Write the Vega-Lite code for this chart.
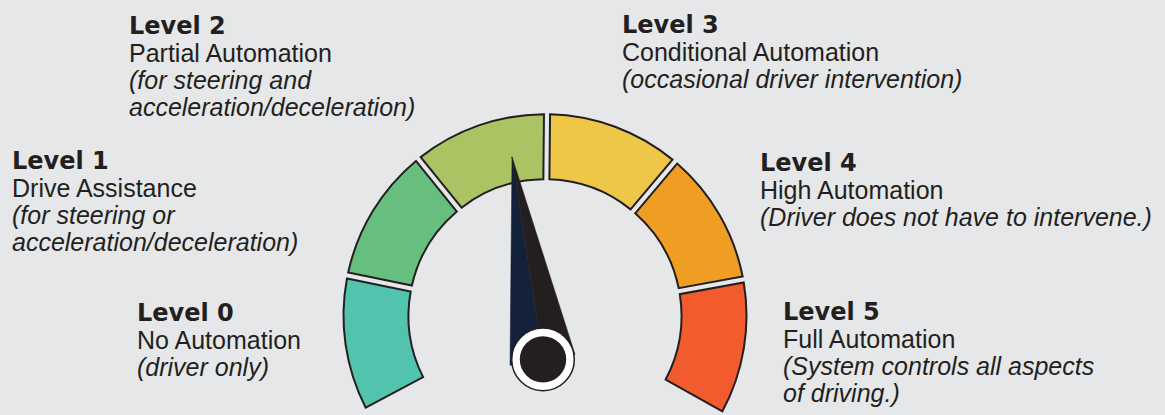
{
  "$schema": "https://vega.github.io/schema/vega-lite/v6.json",
  "width": 1165,
  "height": 415,
  "autosize": {"type": "fit", "contains": "padding"},
  "padding": 0,
  "background": "#e6e7e8",
  "config": {"view": {"stroke": null}},
  "datasets": {
    "levels": [
      {"level": "Level 0", "start": 0, "end": 1, "name": "No Automation", "desc": "(driver only)", "lx": 137, "ly": 323},
      {"level": "Level 1", "start": 1, "end": 2, "name": "Drive Assistance", "desc": "(for steering or\nacceleration/deceleration)", "lx": 12, "ly": 170},
      {"level": "Level 2", "start": 2, "end": 3, "name": "Partial Automation", "desc": "(for steering and\nacceleration/deceleration)", "lx": 129, "ly": 34},
      {"level": "Level 3", "start": 3, "end": 4, "name": "Conditional Automation", "desc": "(occasional driver intervention)", "lx": 622, "ly": 33},
      {"level": "Level 4", "start": 4, "end": 5, "name": "High Automation", "desc": "(Driver does not have to intervene.)", "lx": 760, "ly": 172},
      {"level": "Level 5", "start": 5, "end": 6, "name": "Full Automation", "desc": "(System controls all aspects\nof driving.)", "lx": 783, "ly": 322}
    ],
    "needle": [
      {"part": "navy", "i": 0, "nx": 512, "ny": 158},
      {"part": "navy", "i": 1, "nx": 510, "ny": 368},
      {"part": "navy", "i": 2, "nx": 543, "ny": 362},
      {"part": "black", "i": 0, "nx": 512, "ny": 158},
      {"part": "black", "i": 1, "nx": 543, "ny": 362},
      {"part": "black", "i": 2, "nx": 575, "ny": 357}
    ],
    "hub": [{"hx": 543, "hy": 362}]
  },
  "layer": [
    {
      "data": {"name": "levels"},
      "mark": {"type": "arc", "innerRadius": 136.5, "outerRadius": 201.5, "padAngle": 0.025, "stroke": "#231f20", "strokeWidth": 2},
      "encoding": {
        "x": {"datum": 545, "type": "quantitative", "scale": {"domain": [0, 1165], "nice": false, "zero": false}, "axis": null},
        "y": {"datum": 318, "type": "quantitative", "scale": {"domain": [0, 415], "nice": false, "zero": false, "reverse": true}, "axis": null},
        "theta": {"field": "start", "type": "quantitative", "stack": null, "scale": {"domain": [0, 6], "range": [-2.06, 2.08]}},
        "theta2": {"field": "end"},
        "color": {"field": "level", "type": "nominal", "legend": null, "scale": {"domain": ["Level 0", "Level 1", "Level 2", "Level 3", "Level 4", "Level 5"], "range": ["#52c3ad", "#66bf7f", "#acc364", "#efc748", "#f09d23", "#f15b2e"]}}
      }
    },
    {
      "data": {"name": "needle"},
      "transform": [{"filter": "datum.part === 'navy'"}],
      "mark": {"type": "line", "interpolate": "linear-closed", "fill": "#13213a", "stroke": "#13213a", "strokeWidth": 0.5},
      "encoding": {
        "x": {"field": "nx", "type": "quantitative"},
        "y": {"field": "ny", "type": "quantitative"},
        "order": {"field": "i", "type": "quantitative"}
      }
    },
    {
      "data": {"name": "needle"},
      "transform": [{"filter": "datum.part === 'black'"}],
      "mark": {"type": "line", "interpolate": "linear-closed", "fill": "#231f20", "stroke": "#231f20", "strokeWidth": 0.5},
      "encoding": {
        "x": {"field": "nx", "type": "quantitative"},
        "y": {"field": "ny", "type": "quantitative"},
        "order": {"field": "i", "type": "quantitative"}
      }
    },
    {
      "data": {"name": "hub"},
      "mark": {"type": "circle", "size": 3915, "fill": "#ffffff", "opacity": 1, "stroke": "#231f20", "strokeWidth": 1.5},
      "encoding": {
        "x": {"field": "hx", "type": "quantitative"},
        "y": {"field": "hy", "type": "quantitative"}
      }
    },
    {
      "data": {"name": "hub"},
      "mark": {"type": "circle", "size": 2157, "fill": "#231f20", "opacity": 1},
      "encoding": {
        "x": {"field": "hx", "type": "quantitative"},
        "y": {"field": "hy", "type": "quantitative"}
      }
    },
    {
      "data": {"name": "levels"},
      "mark": {"type": "text", "align": "left", "baseline": "alphabetic", "font": "DejaVu Sans", "fontWeight": "bold", "fontSize": 24, "color": "#231f20"},
      "encoding": {
        "x": {"field": "lx", "type": "quantitative"},
        "y": {"field": "ly", "type": "quantitative"},
        "text": {"field": "level"}
      }
    },
    {
      "data": {"name": "levels"},
      "mark": {"type": "text", "align": "left", "baseline": "alphabetic", "font": "Liberation Sans", "fontSize": 25, "dy": 28.5, "color": "#231f20"},
      "encoding": {
        "x": {"field": "lx", "type": "quantitative"},
        "y": {"field": "ly", "type": "quantitative"},
        "text": {"field": "name"}
      }
    },
    {
      "data": {"name": "levels"},
      "mark": {"type": "text", "align": "left", "baseline": "alphabetic", "font": "Liberation Sans", "fontStyle": "italic", "fontSize": 25, "dy": 55.5, "lineBreak": "\n", "lineHeight": 27, "color": "#231f20"},
      "encoding": {
        "x": {"field": "lx", "type": "quantitative"},
        "y": {"field": "ly", "type": "quantitative"},
        "text": {"field": "desc"}
      }
    }
  ]
}
